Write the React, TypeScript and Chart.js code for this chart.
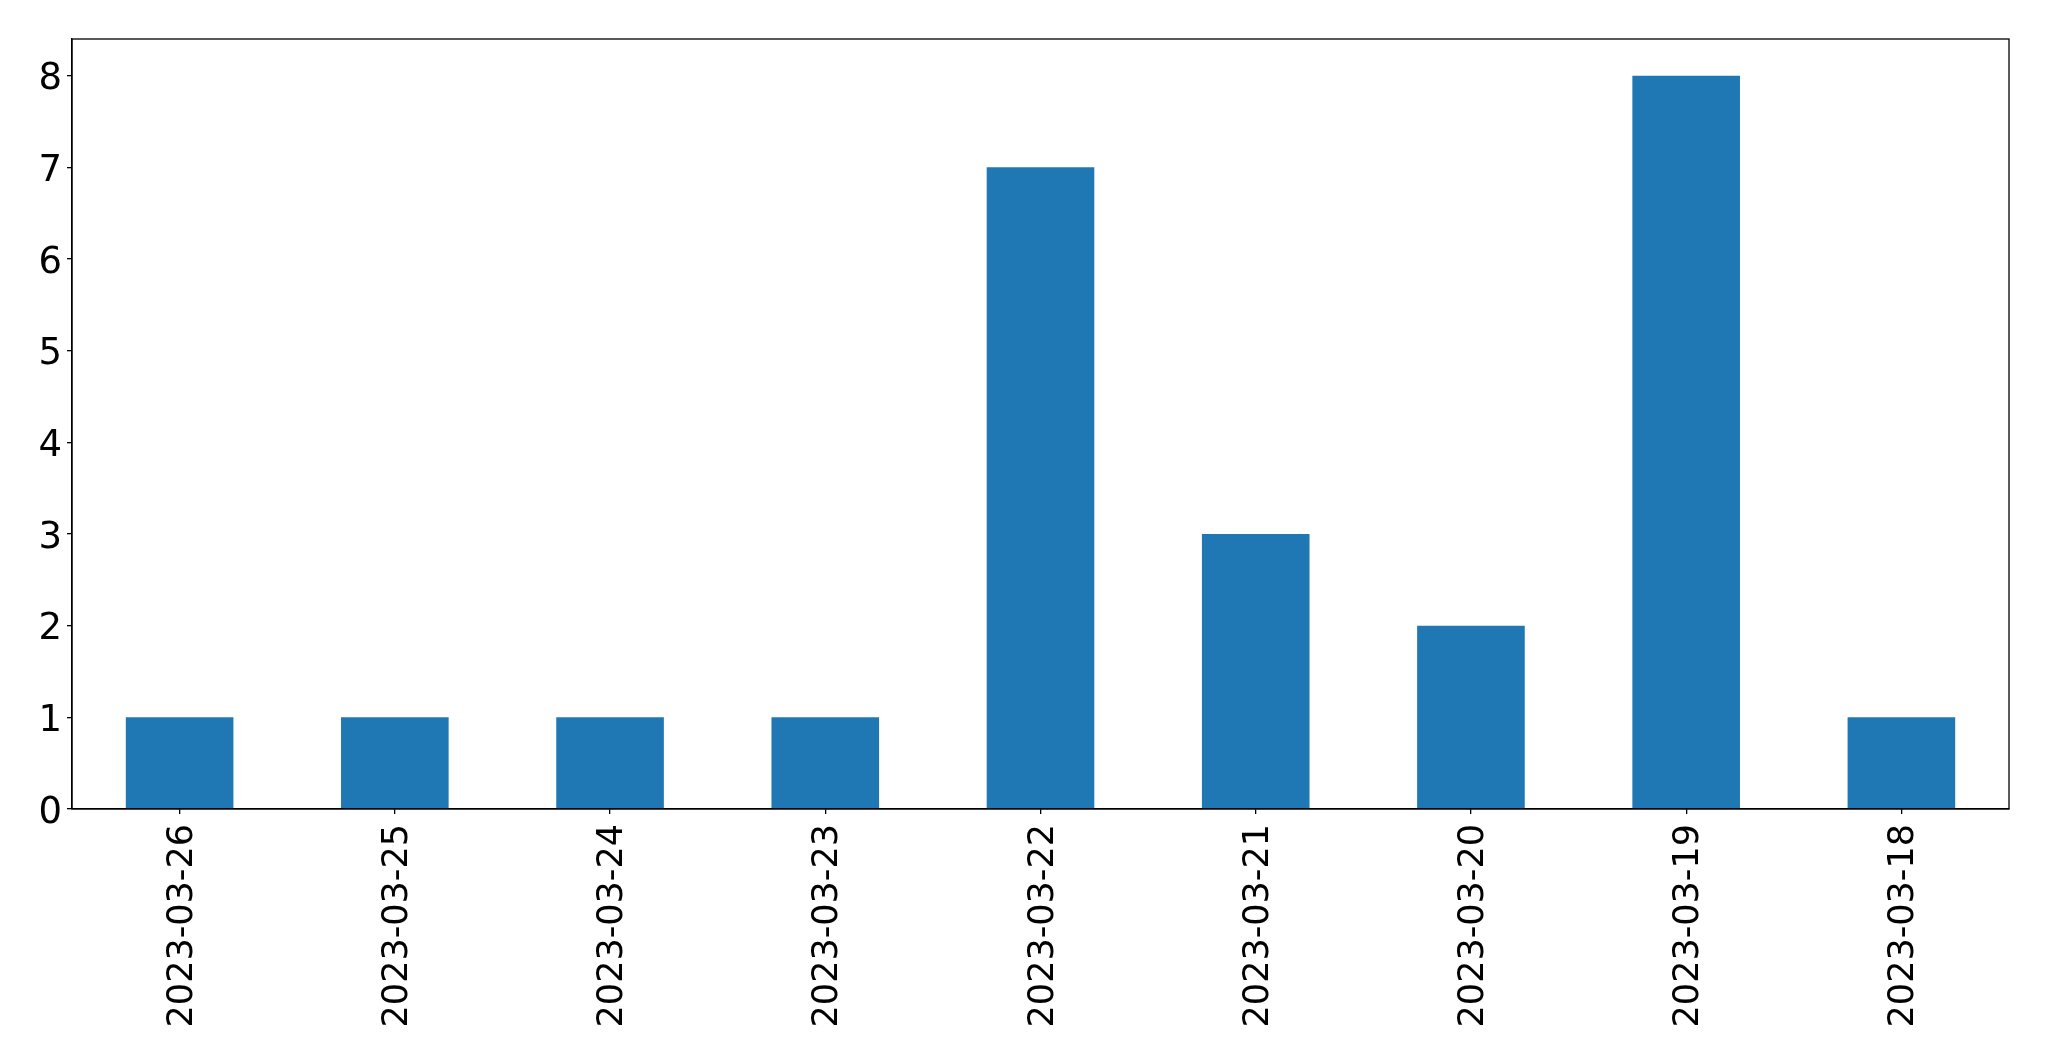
import React, { useEffect, useRef } from "react";
import { Chart, registerables } from "chart.js";

Chart.register(...registerables);

const categories: string[] = [
  "2023-03-26",
  "2023-03-25",
  "2023-03-24",
  "2023-03-23",
  "2023-03-22",
  "2023-03-21",
  "2023-03-20",
  "2023-03-19",
  "2023-03-18",
];
const counts: number[] = [1, 1, 1, 1, 7, 3, 2, 8, 1];
const yTicks: number[] = [0, 1, 2, 3, 4, 5, 6, 7, 8];

const W = 2049;
const H = 1061;

const boxPlugin = {
  id: "boxPlugin",
  afterDraw(chart: any) {
    const { ctx, chartArea } = chart;
    ctx.save();
    ctx.strokeStyle = "#000";
    ctx.lineWidth = 1.3;
    ctx.strokeRect(chartArea.left, chartArea.top, chartArea.right - chartArea.left, chartArea.bottom - chartArea.top);
    ctx.restore();
  },
};

export default function App() {
  const ref = useRef<HTMLCanvasElement | null>(null);
  useEffect(() => {
    document.body.style.margin = "0";
    const canvas = ref.current;
    if (!canvas) return;
    const xFont = { family: "'DejaVu Sans'", size: 35 };
    const yFont = { family: "'DejaVu Sans'", size: 37 };
    const chart = new Chart(canvas, {
      type: "bar",
      data: {
        labels: categories,
        datasets: [
          {
            data: counts,
            backgroundColor: "#1f77b4",
            borderWidth: 0,
            categoryPercentage: 1,
            barPercentage: 0.5,
          },
        ],
      },
      options: {
        animation: false,
        responsive: false,
        maintainAspectRatio: false,
        layout: { padding: { top: 39, right: 40, left: 0, bottom: 0 } },
        plugins: { legend: { display: false }, tooltip: { enabled: false } },
        scales: {
          x: {
            offset: true,
            grid: {
              offset: false,
              drawOnChartArea: false,
              drawTicks: true,
              tickLength: 5,
              color: "#000",
              lineWidth: 1.3,
            },
            border: { display: true, color: "#000", width: 1.3 },
            ticks: {
              color: "#000",
              font: xFont,
              minRotation: 90,
              maxRotation: 90,
              autoSkip: false,
              padding: 10,
              labelOffset: 3,
            },
            afterFit(scale: any) {
              scale.height = H - 809;
            },
          },
          y: {
            min: 0,
            max: 8.4,
            grid: {
              drawOnChartArea: false,
              drawTicks: true,
              tickLength: 5,
              color: "#000",
              lineWidth: 1.3,
            },
            border: { display: true, color: "#000", width: 1.3 },
            ticks: { color: "#000", font: yFont, padding: 5, labelOffset: 4 },
            afterBuildTicks(scale: any) {
              scale.ticks = yTicks.map((v) => ({ value: v }));
            },
            afterFit(scale: any) {
              scale.width = 72;
            },
          },
        },
      },
      plugins: [boxPlugin],
    });
    return () => chart.destroy();
  }, []);
  return (
    <div style={{ position: "fixed", left: 0, top: 0, width: W, height: H, background: "#fff" }}>
      <canvas ref={ref} width={W} height={H} style={{ width: W, height: H, display: "block" }} />
    </div>
  );
}
